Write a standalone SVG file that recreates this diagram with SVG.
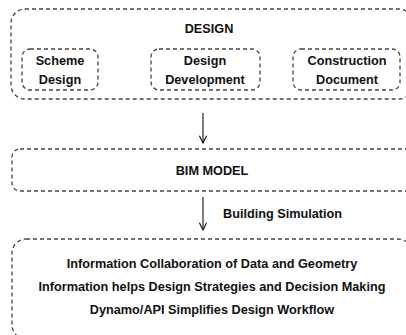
<svg xmlns="http://www.w3.org/2000/svg" width="406" height="335" viewBox="0 0 406 335">
<defs>
<style>
.box{fill:none;stroke:#444;stroke-width:1.3;stroke-dasharray:4 3}
.t{font-family:"Liberation Sans",Arial,sans-serif;font-weight:bold;font-size:12.7px;fill:#111;text-anchor:middle}
.c{fill:none;stroke:#111;stroke-width:1.1}
</style>
<marker id="ah" viewBox="0 0 10 10" refX="9" refY="5" markerWidth="9" markerHeight="9" markerUnits="userSpaceOnUse" orient="auto">
<path d="M1,1 L9,5 L1,9" fill="none" stroke="#111" stroke-width="1.2"/>
</marker>
</defs>
<rect width="406" height="335" fill="#fff"/>
<g id="design">
<rect class="box" x="11" y="9" width="402" height="90" rx="14"/>
<text class="t" x="209" y="33">DESIGN</text>
</g>
<g id="scheme">
<rect class="box" x="22" y="49" width="76" height="41" rx="8"/>
<text class="t" x="60" y="65">Scheme</text>
<text class="t" x="60" y="84">Design</text>
</g>
<g id="development">
<rect class="box" x="151" y="49" width="109" height="41" rx="8"/>
<text class="t" x="205" y="65">Design</text>
<text class="t" x="205" y="84">Development</text>
</g>
<g id="construction">
<rect class="box" x="293" y="49" width="107" height="41" rx="8"/>
<text class="t" x="347" y="65">Construction</text>
<text class="t" x="347" y="84">Document</text>
</g>
<g id="bim">
<rect class="box" x="12" y="149" width="402" height="42" rx="8"/>
<text class="t" x="212" y="175">BIM MODEL</text>
</g>
<g id="outcomes">
<rect class="box" x="12" y="239" width="400" height="100" rx="14"/>
<text class="t" x="212" y="268">Information Collaboration of Data and Geometry</text>
<text class="t" x="212" y="291">Information helps Design Strategies and Decision Making</text>
<text class="t" x="212" y="314">Dynamo/API Simplifies Design Workflow</text>
</g>
<g id="connectors">
<line class="c" x1="203" y1="113" x2="203" y2="143" marker-end="url(#ah)"/>
<line class="c" x1="203" y1="197" x2="203" y2="230" marker-end="url(#ah)"/>
<text class="t" x="223" y="218" style="text-anchor:start">Building Simulation</text>
</g>
</svg>
